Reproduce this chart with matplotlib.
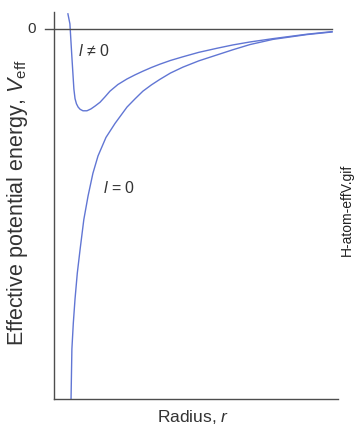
import matplotlib
matplotlib.use('Agg')
import matplotlib.pyplot as plt

plt.rcParams['font.family'] = ['Liberation Sans', 'DejaVu Sans']
plt.rcParams['mathtext.fontset'] = 'custom'
plt.rcParams['mathtext.rm'] = 'Liberation Sans'
plt.rcParams['mathtext.it'] = 'Liberation Sans:italic'

# radius (arbitrary units) and effective potential for the two cases
r_l0 = [0.60, 0.63, 0.68, 0.74, 0.82, 0.92, 1.05, 1.20, 1.37, 1.55, 1.83, 2.15,
        2.57, 2.85, 3.13, 3.43, 3.73, 4.10, 4.54, 5.10, 5.74, 6.30, 6.90, 7.71,
        8.91, 9.79]
v_l0 = [-10.0, -8.65, -7.95, -7.30, -6.60, -5.95, -5.15, -4.51, -3.90, -3.43, -2.93,
        -2.55, -2.11, -1.89, -1.68, -1.51, -1.36, -1.19, -1.03, -0.86, -0.70,
        -0.56, -0.42, -0.28, -0.15, -0.08]

r_lnz = [0.49, 0.56, 0.63, 0.70, 0.74, 0.79, 0.85, 0.92, 1.02, 1.16, 1.30, 1.45,
         1.62, 1.80, 1.97, 2.25, 2.57, 2.85, 3.13, 3.43, 3.73, 4.10, 4.54, 5.10,
         5.74, 6.30, 6.90, 7.71, 8.91, 9.79]
v_lnz = [0.41, 0.14, -0.76, -1.62, -1.88, -2.02, -2.11, -2.17, -2.21, -2.21, -2.16,
         -2.08, -1.98, -1.83, -1.68, -1.50, -1.35, -1.24, -1.14, -1.04, -0.95,
         -0.85, -0.75, -0.63, -0.52, -0.43, -0.35, -0.26, -0.14, -0.07]

curve_color = '#6176d4'
axis_color = '#4d4d4d'
text_color = '#333333'

fig = plt.figure(figsize=(3.55, 4.27), dpi=100)
ax = fig.add_axes([54 / 355, 27 / 427, 284 / 355, 387 / 427])

ax.plot(r_l0, v_l0, color=curve_color, lw=1.0)
ax.plot(r_lnz, v_lnz, color=curve_color, lw=1.0)

# zero-energy line, runs a little past the vertical axis
ax.plot([-0.32, 9.80], [0, 0], color=axis_color, lw=1.0, clip_on=False)

ax.set_xlim(0, 10)
ax.set_ylim(-10, 0.46)
ax.set_xticks([])
ax.set_yticks([])
for side in ['top', 'right']:
    ax.spines[side].set_visible(False)
for side in ['left', 'bottom']:
    ax.spines[side].set_color(axis_color)
    ax.spines[side].set_linewidth(1.0)

ax.text(-0.78, 0.02, '0', fontsize=11, color=text_color, ha='center', va='center')
ax.text(1.40, -0.57, r'$\mathit{l}$ ≠ 0', fontsize=11.5, color=text_color,
        ha='center', va='center')
ax.text(2.29, -4.28, r'$\mathit{l}$ = 0', fontsize=11.5, color=text_color,
        ha='center', va='center')

fig.text(18 / 355, 1 - 203 / 427, r'Effective potential energy, $\mathit{V}_{\rm eff}$',
         rotation=90, fontsize=15.5, color=text_color, ha='center', va='center')
fig.text(193 / 355, 1 - 417 / 427, r'Radius, $\mathit{r}$', fontsize=12.5,
         color=text_color, ha='center', va='center')
fig.text(347 / 355, 1 - 210 / 427, 'H-atom-effV.gif', rotation=90, fontsize=10,
         color='#222222', ha='center', va='center')

fig.savefig('out.png', dpi=100)
